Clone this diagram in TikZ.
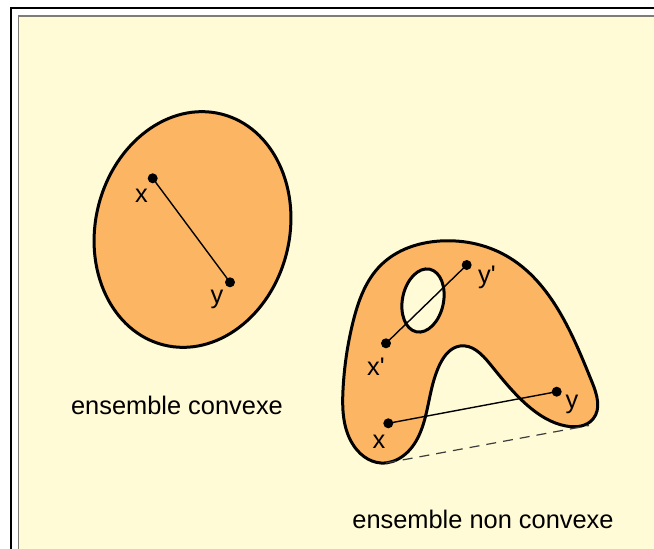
\documentclass[tikz,border=0pt]{standalone}
\usepackage{fontspec}
\setmainfont{Liberation Sans}
\usetikzlibrary{hobby}
\definecolor{bgyellow}{RGB}{255,251,214}
\definecolor{setorange}{RGB}{252,181,98}
\definecolor{framegray}{RGB}{125,125,118}
\definecolor{dashgray}{RGB}{60,60,60}
\begin{document}
\begin{tikzpicture}[x=1pt,y=-1pt,
  lbl/.style={inner sep=0pt,font=\fontsize{25.4}{30}\selectfont},
  dot/.style={circle,fill=black,inner sep=0pt,minimum size=10pt},
  setshape/.style={fill=setorange,draw=black,line width=3pt},
  seg/.style={line width=1.4pt}]
\useasboundingbox (0,0) rectangle (654,549);
\fill[white] (0,0) rectangle (654,549);
\draw[line width=2pt] (10.5,549) -- (10.5,7.5) -- (654,7.5);
\fill[bgyellow] (18.5,16) rectangle (654,549);
\draw[framegray,line width=1.6pt] (18.5,549) -- (18.5,16) -- (654,16);

% convex set
\draw[setshape] (192.5,229.5) ellipse[x radius=97,y radius=119,rotate=-14];
\node[dot] (cx) at (152.7,178.3) {};
\node[dot] (cy) at (230,282.3) {};
\draw[seg] (cx.center) -- (cy.center);
\node[lbl] (cxl) at (141.5,196) {x};
\node[lbl] (cyl) at (217,299) {y};
\node[lbl] (conv) at (177,405) {ensemble convexe};

% non-convex set
\draw[setshape,use Hobby shortcut,closed=true]
 (440,241) .. (510,258) .. (563,318) .. (592,382) .. (593,419) .. (566,426)
 .. (527,405) .. (490,364) .. (460,346) .. (440,364) .. (427,410)
 .. (403,456) .. (381,463) .. (352,443) .. (343,390) .. (353,322) .. (381,265);
\draw[fill=bgyellow,line width=3pt] (423,300.5) ellipse[x radius=20.5,y radius=32,rotate=-12];
\coordinate (dl) at (386,463);
\coordinate (dr) at (589,425.5);
\draw[dashgray,line width=1.2pt,dash pattern=on 10pt off 7pt] (dl) -- (dr);
\node[dot] (nxp) at (386,343.3) {};
\node[dot] (nyp) at (466.7,265) {};
\node[dot] (nx) at (388.3,423.3) {};
\node[dot] (ny) at (556.7,391.7) {};
\draw[seg] (nxp.center) -- (nyp.center);
\draw[seg] (nx.center) -- (ny.center);
\node[lbl] (nypl) at (487,277) {y\textquotesingle};
\node[lbl] (nxpl) at (376,367) {x\textquotesingle};
\node[lbl] (nxl) at (379,442) {x};
\node[lbl] (nyl) at (572,404) {y};
\node[lbl] (nconv) at (483,519) {ensemble non convexe};
\end{tikzpicture}
\end{document}
